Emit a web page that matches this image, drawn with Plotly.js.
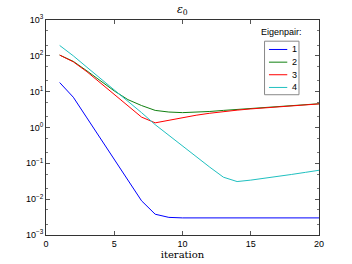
<!DOCTYPE html>
<html><head><meta charset="utf-8">
<script src="https://cdn.plot.ly/plotly-3.0.1.min.js"></script>
<style>html,body{margin:0;padding:0;background:#fff}#chart{width:352px;height:264px}</style>
</head><body><div id="chart"></div>
<script>
const iterations = [1,2,3,4,5,6,7,8,9,10,11,12,13,14,15,16,17,18,19,20];
const pair1 = [18,7,1.85,0.49,0.129,0.034,0.009,0.0038,0.0031,0.003,0.003,0.003,0.003,0.003,0.003,0.003,0.003,0.003,0.003,0.003];
const pair2 = [105,70,38,20,10.5,6,4.1,3.0,2.7,2.6,2.65,2.8,3.0,3.2,3.4,3.65,3.85,4.1,4.35,4.6];
const pair3 = [105,68,36,17.5,8.5,4.1,1.95,1.35,1.6,1.9,2.2,2.5,2.8,3.05,3.3,3.55,3.8,4.05,4.3,4.55];
const pair4 = [195,100,48,23,11.5,5.6,2.6,1.2,0.6,0.3,0.155,0.078,0.041,0.031,0.034,0.038,0.043,0.049,0.056,0.064];
const seriesNames = ['1','2','3','4'];
const seriesColors = ['#0000ff','#108010','#ff0000','#20c0c0'];
const yTickVals = [1e-3,1e-2,1e-1,1,10,100,1000];
const yTickText = ['10<sup>\u22123</sup>','10<sup>\u22122</sup>','10<sup>\u22121</sup>','10<sup>0</sup>','10<sup>1</sup>','10<sup>2</sup>','10<sup>3</sup>'];
const xTickVals = [0,5,10,15,20];
const legendTitle = 'Eigenpair:';

const allSeries = [pair1,pair2,pair3,pair4];
const traces = allSeries.map((ys,i)=>({
  x: iterations, y: ys, type:'scatter', mode:'lines', name: seriesNames[i],
  line:{color:seriesColors[i], width:1}, showlegend:false
}));

const font9 = {family:'Liberation Sans, Arial, sans-serif', size:9, color:'#000'};
const axisCommon = {
  showline:true, linecolor:'#333', linewidth:1, mirror:'allticks',
  ticks:'inside', ticklen:4, tickcolor:'#555', showgrid:false, zeroline:false,
  tickfont:font9
};

// custom compact legend (layout positions in paper coordinates)
const legBox = {x0:0.8005, x1:0.9267, y0:0.6524, y1:0.9015};
const legRowY = [0.8629, 0.8039, 0.7454, 0.6863];
const legLineX = [0.8167, 0.8838];
const legTextX = 0.8948;

const shapes = [{type:'rect', xref:'paper', yref:'paper', x0:legBox.x0, x1:legBox.x1, y0:legBox.y0, y1:legBox.y1,
  line:{color:'#888', width:1}, fillcolor:'#fff', layer:'above'}];
const annotations = [{text:legendTitle, xref:'paper', yref:'paper', x:0.862, y:0.942,
  xanchor:'center', yanchor:'middle', showarrow:false, font:font9}];
seriesNames.forEach((nm,i)=>{
  shapes.push({type:'line', xref:'paper', yref:'paper', x0:legLineX[0], x1:legLineX[1], y0:legRowY[i], y1:legRowY[i],
    line:{color:seriesColors[i], width:1}, layer:'above'});
  annotations.push({text:nm, xref:'paper', yref:'paper', x:legTextX, y:legRowY[i], xanchor:'left', yanchor:'middle',
    showarrow:false, font:font9});
});

const layout = {
  width:352, height:264,
  margin:{l:46, r:33, t:20, b:29},
  paper_bgcolor:'#fff', plot_bgcolor:'#fff',
  showlegend:false,
  title:{text:'<i>\u03b5</i><sub>0</sub>', x:0.518, xanchor:'center', y:0.965, yanchor:'middle',
    font:{family:'DejaVu Serif, serif', size:11, color:'#000'}},
  xaxis: Object.assign({}, axisCommon, {
    range:[0,20], tickvals:xTickVals, ticktext:xTickVals.map(String),
    title:{text:'iteration', standoff:2, font:{family:'DejaVu Serif, Liberation Serif, serif', size:10, color:'#000'}}
  }),
  yaxis: Object.assign({}, axisCommon, {
    type:'log', range:[-3,3], tickvals:yTickVals, ticktext:yTickText,
    minor:{ticks:'inside', ticklen:2, tickcolor:'#777', showgrid:false}
  }),
  shapes: shapes,
  annotations: annotations
};

Plotly.newPlot('chart', traces, layout, {displayModeBar:false, staticPlot:true});
</script></body></html>
